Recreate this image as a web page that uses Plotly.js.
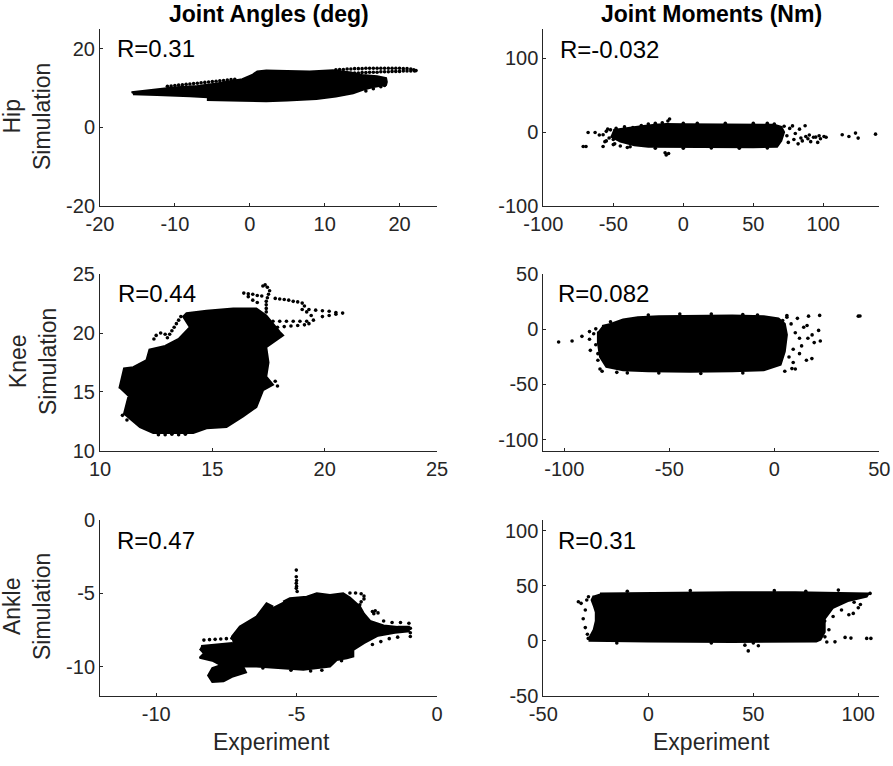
<!DOCTYPE html>
<html><head><meta charset="utf-8">
<script src="https://cdn.plot.ly/plotly-3.0.1.min.js"></script>
<style>html,body{margin:0;padding:0;background:#fff}#chart{width:893px;height:766px}</style>
</head><body><div id="chart"></div>
<script>
// ---------- Data ----------
// Hip joint angles (deg): dense trajectory region + trailing dotted samples
const hipAngleCoreX = [-15.8,-14,-12.4,-10.2,-7,-4.4,-1,0.4,1,2.2,5,8,11.1,13.5,15,17,18.2,18.3,18.2,16.5,15.1,13.8,11.5,8.9,5,2.2,-1,-4,-5.6,-5.6,-8,-12.4,-15.6];
const hipAngleCoreY = [8.9,9.3,9.7,10.1,10.5,11.1,12.2,13.4,14.2,14.4,14.3,14.2,14.5,13.9,13.3,13.0,12.5,11.5,10.8,10.2,9.5,8.6,7.8,7.2,6.8,6.6,6.7,6.8,6.9,7.6,7.9,8.2,8.4];
const hipAngleDotsX = [11.5,12,12.5,13,13.5,14,14.5,15,15.5,16,16.5,17,17.5,18,18.5,19,19.5,20,20.5,21,21.5,21.9,22.2,
  12.5,13,13.5,14,14.5,15,15.5,16,16.5,17,17.5,18,18.5,19,19.5,20,20.5,21,21.5,22,
  -11,-10.5,-10,-9.5,-9,-8.5,-8,-7.5,-7,-6.5,-6,-5.5,-5,-4.5,-4,-3.5,-3,-2.5,-2,
  15.5,16.5,17.5,18];
const hipAngleDotsY = [14.6,14.7,14.7,14.8,14.8,14.9,14.9,14.9,15.0,15.0,15.0,15.0,15.0,15.0,15.0,15.0,15.0,15.0,14.9,14.9,14.8,14.6,14.4,
  13.6,13.7,13.7,13.8,13.8,13.9,13.9,14.0,14.0,14.0,14.1,14.1,14.1,14.2,14.2,14.2,14.3,14.3,14.3,14.3,
  10.4,10.5,10.6,10.7,10.8,10.9,11.0,11.1,11.2,11.3,11.4,11.5,11.6,11.7,11.8,11.9,12.0,12.1,12.2,
  9.2,9.8,10.3,10.6];

// Hip joint moments (Nm)
const hipMomentCoreX = [-50,-40,-30,-20,-12,0,20,40,55,65,70,72,70,67,50,30,10,-10,-25,-35,-45,-52];
const hipMomentCoreY = [3,6,8,10,11,10.5,10.5,10.5,10.5,10,7,0,-12,-20,-20.5,-20.5,-20.5,-20.5,-20,-18,-13,-6];
const hipMomentDotsX = [-71.5,-69.5,-68,-63,-60,-57.3,-57.3,-56,-55,-53,-52,-50,-49,-48,-46,-45,-44,-42,-41,-39,-38,-36,
  -9.8,-11,-12.2,-13,-10.5,
  72,74,75,76,78,79,80,82,83,84,85,87,87.5,89,90,91,93,94.6,96,97,98,100.5,102,
  113.5,118.3,123,124.9,137.3,
  -30,-25,-20,-15,0,10,30,50,60,65,
  -40,-20,0,20,40,60,-55,-54,-50];
const hipMomentDotsY = [-19.6,-19.6,-0.5,-0.5,-4,-3.7,-19.6,-13,1,-8,3,-10,-16,5,-2,-19,-6,7,-12,2,-20,6,
  17.7,15,-31,-28,-29,
  8,-5,-14,5,8.4,-10,-2,-16,4,-8,-12,8.6,-6,-9,-4,-13,-7,-6.8,-14,-5,-9,-6,-7,
  -3.7,-6,-1.4,-8.2,-2.8,
  9,11,12,12.5,12,12,12,12,12,11,
  -21,-22,-22,-21.5,-22,-21.5,-12,4,-17];

// Knee joint angles (deg)
const kneeAngleCoreX = [10.86,11.07,11.48,12.07,12.2,12.9,13.5,14.0,13.7,13.85,14.74,15.93,16.96,17.4,18.0,18.15,17.4,17.5,17.4,17.7,17.26,16.96,16.37,15.63,14.74,14.15,12.37,11.78,11.07,11.26];
const kneeAngleCoreY = [15.28,17.0,17.1,17.7,18.6,18.9,19.5,20.5,21.4,21.7,21.9,22.1,22.1,21.5,20.1,19.8,18.8,17.5,16.3,15.6,15.14,13.7,12.9,12.0,11.9,11.5,11.5,12.0,13.15,14.57];
const kneeAngleDotsX = [12.4,12.5,12.7,12.9,13.0,13.1,13.2,13.3,13.4,13.5,13.6,
  17.4,17.4,17.4,17.4,17.45,17.5,17.55,17.45,17.35,17.25,
  17.2,17.0,16.8,16.6,16.4,16.6,16.8,17.0,
  17.8,18.0,18.2,18.4,18.6,18.8,19.0,19.1,19.0,19.2,19.4,19.5,19.3,19.1,
  19.3,19.6,19.9,20.2,20.5,20.8,20.5,20.2,19.9,
  17.7,18.0,18.3,18.6,18.9,19.2,17.6,17.9,18.2,18.5,18.8,
  12.6,12.9,13.2,13.5,13.8,17.9,17.8,11.0,11.2];
const kneeAngleDotsY = [19.5,19.8,20.0,19.9,19.6,19.9,20.2,20.5,20.8,21.1,21.4,
  21.8,22.1,22.4,22.7,23.0,23.3,23.6,23.9,24.1,24.0,
  23.15,23.2,23.3,23.35,23.4,23.1,22.8,22.6,
  22.95,22.9,22.85,22.8,22.7,22.65,22.55,22.3,22.0,21.8,21.5,21.1,20.8,20.7,
  22.0,21.95,21.9,21.85,21.75,21.7,21.6,21.5,21.4,
  21.0,21.0,21.0,21.0,21.0,21.0,20.45,20.5,20.55,20.6,20.65,
  11.35,11.35,11.4,11.35,11.4,15.5,15.9,13.0,12.6];

// Knee joint moments (Nm)
const kneeMomentCoreX = [-82,-78,-72,-65,-55,-40,-20,-5,2,5,6,5,3,-5,-20,-40,-60,-72,-80,-83,-84,-84];
const kneeMomentCoreY = [3,5,9,11,12,12.5,12.5,12,10,5,-5,-20,-32,-37,-38,-38.5,-38,-37,-34,-25,-12,-2];
const kneeMomentDotsX = [-102.7,-96.3,-91.6,-88,-87.6,-86,-85,-84,-83,-85,-84,-82,
  4,6,8,8.4,9,10,9,11,12,13,14,15.3,15.6,16.3,17.9,18,19,21.1,21.9,21.6,40,40.8,7,10,5,12,16,6,
  -60,-45,-30,-15,-8,
  -75,-70,-55,-35,-15,-78,-88];
const kneeMomentDotsY = [-11.5,-10.6,-6.3,-9,-19,-4,-14,-28,-36,0.5,-22,-38,
  8,11,5,-35.6,-30,-3,-18,10,-8,-15,2,-28,3.6,12,-26.5,-5,-12,-0.9,-10.6,12.7,12,12.2,-25,-36,-38,-22,-8,12.5,
  13,14,14,13.5,13,
  -39,-39.5,-39.5,-40,-39.5,7,-2];

// Ankle joint angles (deg)
const ankleAngleCoreX = [-5.48,-5.24,-4.64,-4.28,-3.81,-3.34,-3.1,-2.74,-2.6,-2.38,-1.9,-1.4,-1.0,-1.0,-1.5,-2.1,-2.6,-2.98,-2.98,-3.21,-3.57,-3.81,-4.76,-5.71,-6.43,-6.9,-7.1,-7.3,-7.02,-6.43,-6.07,-5.83];
const ankleAngleCoreY = [-5.59,-5.36,-5.25,-5.02,-5.14,-5.02,-5.3,-5.93,-6.4,-6.9,-7.2,-7.3,-7.3,-7.6,-7.7,-7.9,-8.4,-8.87,-9.32,-9.43,-9.55,-10.0,-10.22,-10.11,-10.0,-10.0,-9.3,-7.96,-7.28,-6.6,-5.7,-5.93];
const ankleAngleLobeX = [-8.4,-7.9,-7.3,-7.0,-6.9,-6.8,-7.3,-7.6,-8.0,-8.15,-8.0,-7.7,-8.0,-8.45,-8.3,-8.45];
const ankleAngleLobeY = [-8.6,-8.5,-8.4,-9.0,-10.0,-10.4,-10.7,-11.0,-11.05,-10.6,-10.1,-9.9,-9.6,-9.4,-9.1,-8.8];
const ankleAngleDotsX = [-5.01,-5.01,-5.0,-5.01,-5.0,-5.01,-4.98,
  -3.1,-2.9,-2.7,-2.6,-2.6,-2.7,-2.75,
  -2.2,-2.1,-2.25,-2.3,
  -1.6,-1.3,-1.0,-0.95,-0.95,-0.95,-1.4,-1.7,-2.0,-2.3,-1.9,
  -8.3,-8.1,-7.9,-7.7,-7.5,-7.3,
  -4.5,-4.1,-5.2,-6.2,-3.4];
const ankleAngleDotsY = [-3.44,-3.89,-4.15,-4.34,-4.55,-4.68,-4.9,
  -5.0,-5.0,-5.05,-5.2,-5.4,-5.6,-5.8,
  -6.2,-6.35,-6.4,-6.25,
  -7.0,-7.0,-7.05,-7.4,-7.7,-7.95,-8.0,-8.1,-8.3,-8.5,-6.9,
  -8.2,-8.17,-8.15,-8.12,-8.1,-8.07,
  -10.3,-10.25,-10.25,-10.1,-9.6];

// Ankle joint moments (Nm)
const ankleMomentCoreX = [-23,0,40,70,90,105,104,95,88,84,84,82,80,40,0,-20,-28,-28,-26,-25,-25,-26,-27,-26];
const ankleMomentCoreY = [43,43.5,44,44,43.5,43,40,36,30,20,8,1,-0.5,-1,-0.5,-0.5,0,3,10,18,26,32,37,41];
const ankleMomentDotsX = [-33.3,-32,-29.3,-28.6,-30,-31,-30,-29,-28.5,
  46,47.6,52.4,50,84.1,88.9,93.7,96.5,104,106,97.6,95.5,100,105.6,90.5,98,86,84,88,92,85,83,101,94,
  -10,20,60,75,-15,30];
const ankleMomentDotsY = [35.5,34,37,2.2,28,20,12,6,40,
  -3.9,-9.1,-4.5,-2,3.6,-0.9,3.1,2.5,2.2,2.2,24.9,23.6,30,43,46,35,10,18,22,28,-1,12,33,38,
  45,45.5,45.5,45,-2,-2];

// Correlations and text
const rLabels = ['R=0.31','R=-0.032','R=0.44','R=0.082','R=0.47','R=0.31'];
const columnTitles = ['Joint Angles (deg)','Joint Moments (Nm)'];
const rowLabels = ['Hip','Knee','Ankle'];
const yTitleWord = 'Simulation';
const xTitleWord = 'Experiment';

// Axis ranges and tick values
const ranges = {
  x1:[-20,25], y1:[-20,25], x2:[-100,140], y2:[-100,140],
  x3:[10,25],  y3:[10,25],  x4:[-110,50], y4:[-110,50],
  x5:[-12,0],  y5:[-12,0],  x6:[-50,110], y6:[-50,110]
};
const tickValues = {
  x1:[-20,-10,0,10,20], y1:[-20,0,20],
  x2:[-100,-50,0,50,100], y2:[-100,0,100],
  x3:[10,15,20,25], y3:[10,15,20,25],
  x4:[-100,-50,0,50], y4:[-100,-50,0,50],
  x5:[-10,-5,0], y5:[-10,-5,0],
  x6:[-50,0,50,100], y6:[-50,0,50,100]
};

// ---------- Layout geometry ----------
const W = 893, H = 766;
const FONT = 'Liberation Sans, Arial, Helvetica, sans-serif';
const AX = '#262626';
const px = v => v / W;
const py = v => 1 - v / H;
const colDom = [[px(100), px(437)], [px(543.3), px(879.3)]];
const rowDom = [[py(205.7), py(29)], [py(450.6), py(274.3)], [py(696), py(519.5)]];

function axis(key, domain, anchor) {
  const t = tickValues[key];
  return {
    domain: domain, range: ranges[key], anchor: anchor,
    tickmode: 'array', tickvals: t, ticktext: t.map(String),
    showline: true, linecolor: AX, linewidth: 1, mirror: false,
    ticks: 'inside', ticklen: 3, tickwidth: 1, tickcolor: AX,
    showgrid: false, zeroline: false, fixedrange: true,
    tickfont: {family: FONT, size: 20, color: AX}
  };
}

const layout = {
  width: W, height: H, margin: {l:0, r:0, t:0, b:0},
  paper_bgcolor: '#fff', plot_bgcolor: '#fff', showlegend: false,
  font: {family: FONT, color: AX},
  annotations: []
};
for (let i = 0; i < 6; i++) {
  const n = i + 1, c = i % 2, r = Math.floor(i / 2);
  layout[n === 1 ? 'xaxis' : 'xaxis' + n] = axis('x' + n, colDom[c], n === 1 ? 'y' : 'y' + n);
  layout[n === 1 ? 'yaxis' : 'yaxis' + n] = axis('y' + n, rowDom[r], n === 1 ? 'x' : 'x' + n);
}

const rPos = [[114.7,48.3],[558,50],[115.7,293.3],[556.3,293.3],[115,540],[555.7,540]];
rLabels.forEach((t, i) => layout.annotations.push({
  text: t, xref:'paper', yref:'paper', x: px(rPos[i][0]), y: py(rPos[i][1]),
  xanchor:'left', yanchor:'middle', showarrow:false,
  font:{family: FONT, size: 24, color:'#000'}
}));
const titlePos = [[268.5,14],[711,14]];
columnTitles.forEach((t, i) => layout.annotations.push({
  text: '<b>' + t + '</b>', xref:'paper', yref:'paper', x: px(titlePos[i][0]), y: py(titlePos[i][1]),
  xanchor:'center', yanchor:'middle', showarrow:false,
  font:{family: FONT, size: 23, color:'#000'}
}));
const yTitlePos = [[27,117],[33,362],[27,607]];
rowLabels.forEach((t, i) => layout.annotations.push({
  text: t + '<br>' + yTitleWord, xref:'paper', yref:'paper', x: px(yTitlePos[i][0]), y: py(yTitlePos[i][1]),
  xanchor:'center', yanchor:'middle', textangle: -90, showarrow:false,
  font:{family: FONT, size: 23, color: AX}
}));
[[271.5,742],[711.7,742]].forEach(p => layout.annotations.push({
  text: xTitleWord, xref:'paper', yref:'paper', x: px(p[0]), y: py(p[1]),
  xanchor:'center', yanchor:'middle', showarrow:false,
  font:{family: FONT, size: 23, color: AX}
}));

// ---------- Traces ----------
const panels = [
  {cores:[[hipAngleCoreX, hipAngleCoreY]], dots:[hipAngleDotsX, hipAngleDotsY]},
  {cores:[[hipMomentCoreX, hipMomentCoreY]], dots:[hipMomentDotsX, hipMomentDotsY]},
  {cores:[[kneeAngleCoreX, kneeAngleCoreY]], dots:[kneeAngleDotsX, kneeAngleDotsY]},
  {cores:[[kneeMomentCoreX, kneeMomentCoreY]], dots:[kneeMomentDotsX, kneeMomentDotsY]},
  {cores:[[ankleAngleCoreX, ankleAngleCoreY],[ankleAngleLobeX, ankleAngleLobeY]], dots:[ankleAngleDotsX, ankleAngleDotsY]},
  {cores:[[ankleMomentCoreX, ankleMomentCoreY]], dots:[ankleMomentDotsX, ankleMomentDotsY]}
];
const data = [];
panels.forEach((p, i) => {
  const xa = i === 0 ? 'x' : 'x' + (i + 1), ya = i === 0 ? 'y' : 'y' + (i + 1);
  p.cores.forEach(c => data.push({x: c[0], y: c[1], xaxis: xa, yaxis: ya, type:'scatter', mode:'lines',
    fill:'toself', fillcolor:'#000', line:{color:'#000', width:2}, hoverinfo:'skip'}));
  data.push({x: p.dots[0], y: p.dots[1], xaxis: xa, yaxis: ya, type:'scatter', mode:'markers',
    marker:{color:'#000', size:3.6}, hoverinfo:'skip'});
});

Plotly.newPlot('chart', data, layout, {staticPlot: true, displayModeBar: false});
</script></body></html>
